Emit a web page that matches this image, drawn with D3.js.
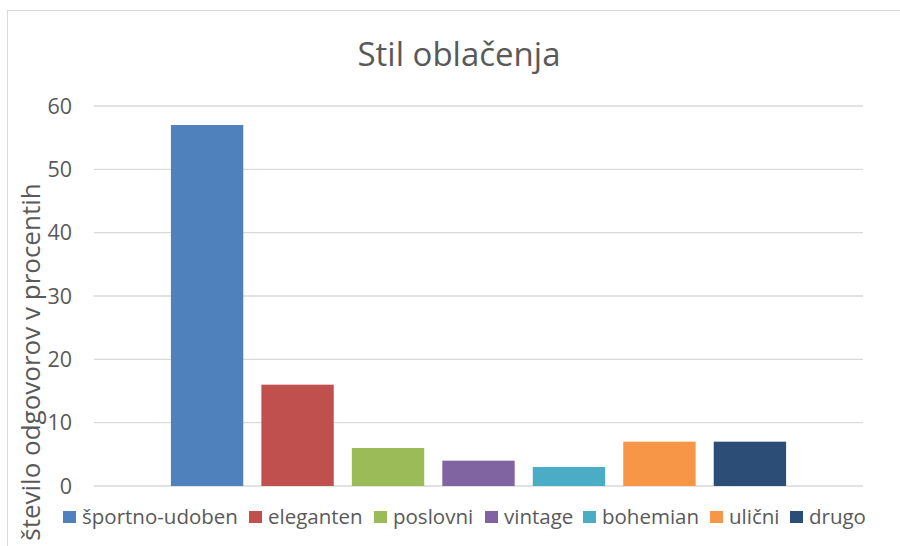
<!doctype html>
<html lang="sl">
<head>
    <meta charset="UTF-8" />
    <title>Stil oblačenja</title>
    <script src="https://d3js.org/d3.v7.min.js"></script>
    <style>
        body, html {
            margin: 0;
            padding: 0;
            background: #fff;
            overflow: hidden;
        }
        svg {
            display: block;
            font-family: "Open Sans", "DejaVu Sans", sans-serif;
        }
        .grid line {
            stroke: #d9d9d9;
            stroke-width: 1.3px;
        }
        .tick-label, .legend-label, .title, .ylabel {
            fill: #595959;
        }
    </style>
</head>
<body>
    <svg id="chart" width="900" height="546"></svg>

    <script>
        const series = ["športno-udoben", "eleganten", "poslovni", "vintage", "bohemian", "ulični", "drugo"];
        const values = [57, 16, 6, 4, 3, 7, 7];
        const colors = ["#4F81BD", "#C0504D", "#9BBB59", "#8064A2", "#4BACC6", "#F79646", "#2C4D75"];
        const yTicks = [0, 10, 20, 30, 40, 50, 60];

        const svg = d3.select("#chart");
        const plot = { left: 94, right: 863, top: 106, bottom: 486 };

        // chart border (runs off the bottom and right of the picture)
        svg.append("rect")
            .attr("x", 7.5).attr("y", 10.5)
            .attr("width", 900).attr("height", 600)
            .attr("fill", "none")
            .attr("stroke", "#d9d9d9")
            .attr("stroke-width", 1);

        const y = d3.scaleLinear().domain([0, 60]).range([plot.bottom, plot.top]);
        const x = d3.scaleBand()
            .domain(series)
            .range([plot.left, plot.right])
            .paddingInner(0.2)
            .paddingOuter(0.85);

        // gridlines
        svg.append("g").attr("class", "grid")
            .selectAll("line")
            .data(yTicks)
            .join("line")
            .attr("x1", plot.left).attr("x2", plot.right)
            .attr("y1", d => y(d)).attr("y2", d => y(d));

        // tick labels
        svg.append("g")
            .selectAll("text")
            .data(yTicks)
            .join("text")
            .attr("class", "tick-label")
            .attr("x", 72)
            .attr("y", d => y(d))
            .attr("dy", "0.36em")
            .attr("text-anchor", "end")
            .attr("font-size", 21.5)
            .text(d => d);

        // bars
        svg.append("g")
            .selectAll("rect")
            .data(series)
            .join("rect")
            .attr("x", d => x(d))
            .attr("width", x.bandwidth())
            .attr("y", (d, i) => y(values[i]))
            .attr("height", (d, i) => y(0) - y(values[i]))
            .attr("fill", (d, i) => colors[i]);

        // title
        svg.append("text")
            .attr("class", "title")
            .attr("x", 459).attr("y", 66)
            .attr("text-anchor", "middle")
            .attr("font-size", 33)
            .text("Stil oblačenja");

        // y axis label
        svg.append("text")
            .attr("class", "ylabel")
            .attr("transform", "translate(40, 362) rotate(-90)")
            .attr("text-anchor", "middle")
            .attr("font-size", 26)
            .text("število odgovorov v procentih");

        // legend
        const legendX = [63, 249, 374, 485, 583, 710, 790];
        const legend = svg.append("g")
            .selectAll("g")
            .data(series)
            .join("g")
            .attr("transform", (d, i) => `translate(${legendX[i]}, 511)`);
        legend.append("rect")
            .attr("width", 13).attr("height", 12)
            .attr("fill", (d, i) => colors[i]);
        legend.append("text")
            .attr("class", "legend-label")
            .attr("x", 19).attr("y", 6)
            .attr("dy", "0.36em")
            .attr("font-size", 20.5)
            .text(d => d);
    </script>
</body>
</html>
